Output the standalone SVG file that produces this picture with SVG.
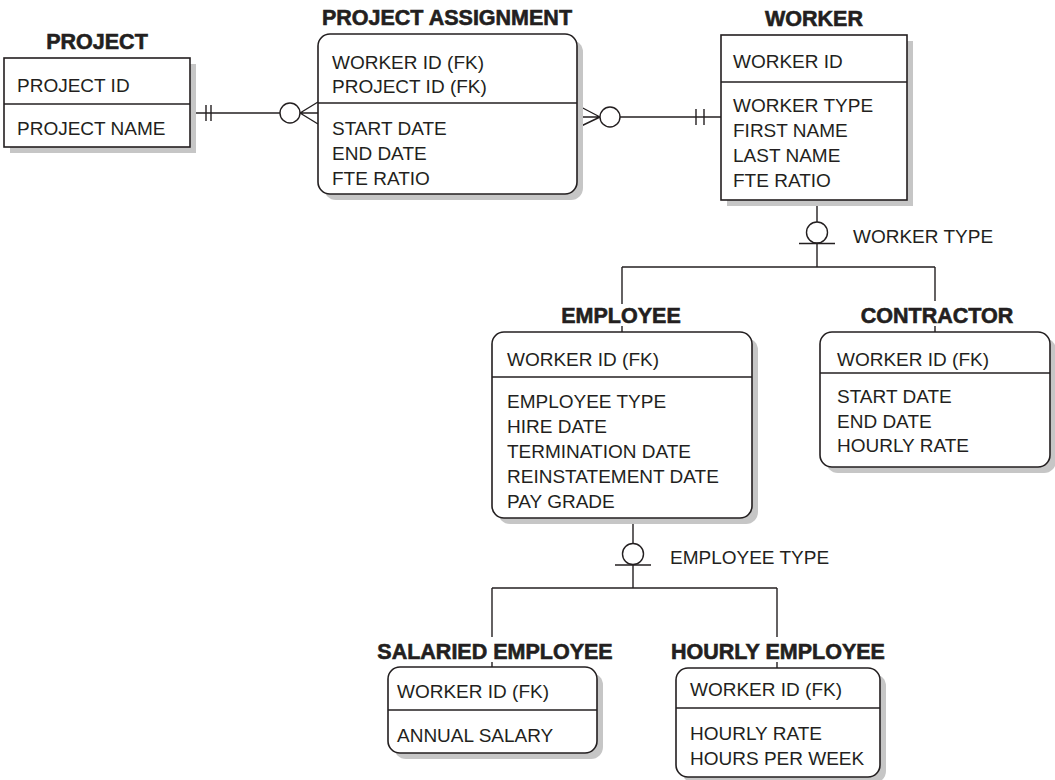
<svg xmlns="http://www.w3.org/2000/svg" width="1055" height="780" viewBox="0 0 1055 780">
<style>
  .box { fill: #ffffff; stroke: #231f20; stroke-width: 1.6; }
  .shadow { fill: #c6c6c6; stroke: none; }
  .div { stroke: #231f20; stroke-width: 1.3; fill: none; }
  .ln { stroke: #231f20; stroke-width: 1.4; fill: none; }
  .circ { fill: #ffffff; stroke: #231f20; stroke-width: 1.4; }
  .t { font-family: "Liberation Sans", Arial, sans-serif; font-size: 19px; fill: #231f20; }
  .title { font-family: "Liberation Sans", Arial, sans-serif; font-size: 21.5px; font-weight: bold; fill: #231f20; stroke: #231f20; stroke-width: 0.6; text-anchor: middle; }
</style>
<rect width="1055" height="780" fill="#ffffff"/>

<g id="connectors">
  <!-- PROJECT to PROJECT ASSIGNMENT -->
  <line class="ln" x1="190" y1="113" x2="280" y2="113"/>
  <line class="ln" x1="206" y1="105" x2="206" y2="121"/>
  <line class="ln" x1="211" y1="105" x2="211" y2="121"/>
  <circle class="circ" cx="290" cy="113" r="10"/>
  <path class="ln" d="M300,113 L318,102 M300,113 L318,113 M300,113 L318,124"/>
  <!-- WORKER to PROJECT ASSIGNMENT -->
  <path class="ln" d="M600,117 L577,105 M600,117 L577,117 M600,117 L577,128"/>
  <circle class="circ" cx="610" cy="117" r="10"/>
  <line class="ln" x1="620" y1="117" x2="721" y2="117"/>
  <line class="ln" x1="696" y1="109" x2="696" y2="125"/>
  <line class="ln" x1="704" y1="109" x2="704" y2="125"/>
  <!-- WORKER subtype -->
  <line class="ln" x1="817" y1="200" x2="817" y2="222"/>
  <circle class="circ" cx="817" cy="232.5" r="10.5"/>
  <line class="ln" x1="799" y1="243.5" x2="835" y2="243.5"/>
  <line class="ln" x1="817" y1="243.5" x2="817" y2="267"/>
  <line class="ln" x1="622" y1="267" x2="935" y2="267"/>
  <line class="ln" x1="622" y1="267" x2="622" y2="304"/>
  <line class="ln" x1="622" y1="326" x2="622" y2="332"/>
  <line class="ln" x1="935" y1="267" x2="935" y2="301"/>
  <line class="ln" x1="935" y1="326" x2="935" y2="332"/>
  <text class="t" x="853" y="243">WORKER TYPE</text>
  <!-- EMPLOYEE subtype -->
  <line class="ln" x1="633" y1="518" x2="633" y2="543.5"/>
  <circle class="circ" cx="633" cy="554" r="10.5"/>
  <line class="ln" x1="615" y1="565" x2="651" y2="565"/>
  <line class="ln" x1="633" y1="565" x2="633" y2="588"/>
  <line class="ln" x1="492" y1="588" x2="777" y2="588"/>
  <line class="ln" x1="492" y1="588" x2="492" y2="637"/>
  <line class="ln" x1="492" y1="662" x2="492" y2="667"/>
  <line class="ln" x1="777" y1="588" x2="777" y2="637"/>
  <line class="ln" x1="777" y1="662" x2="777" y2="668"/>
  <text class="t" x="670" y="564">EMPLOYEE TYPE</text>
</g>

<g id="project">
  <rect class="shadow" x="10" y="64" width="186" height="89"/>
  <rect class="box" x="4" y="58" width="186" height="89"/>
  <line class="div" x1="4" y1="104" x2="190" y2="104"/>
  <text class="title" x="97" y="49">PROJECT</text>
  <text class="t" x="17" y="92">PROJECT ID</text>
  <text class="t" x="17" y="135">PROJECT NAME</text>
</g>

<g id="project-assignment">
  <rect class="shadow" x="324" y="40" width="259" height="160" rx="12"/>
  <rect class="box" x="318" y="34" width="259" height="160" rx="12"/>
  <line class="div" x1="318" y1="103" x2="577" y2="103"/>
  <text class="title" x="447" y="25">PROJECT ASSIGNMENT</text>
  <text class="t" x="332" y="69">WORKER ID (FK)</text>
  <text class="t" x="332" y="93">PROJECT ID (FK)</text>
  <text class="t" x="332" y="135">START DATE</text>
  <text class="t" x="332" y="160">END DATE</text>
  <text class="t" x="332" y="185">FTE RATIO</text>
</g>

<g id="worker">
  <rect class="shadow" x="727" y="41" width="186" height="165"/>
  <rect class="box" x="721" y="35" width="186" height="165"/>
  <line class="div" x1="721" y1="82" x2="907" y2="82"/>
  <text class="title" x="814" y="26">WORKER</text>
  <text class="t" x="733" y="68">WORKER ID</text>
  <text class="t" x="733" y="112">WORKER TYPE</text>
  <text class="t" x="733" y="137">FIRST NAME</text>
  <text class="t" x="733" y="162">LAST NAME</text>
  <text class="t" x="733" y="187">FTE RATIO</text>
</g>

<g id="employee">
  <rect class="shadow" x="498" y="338" width="260" height="186" rx="12"/>
  <rect class="box" x="492" y="332" width="260" height="186" rx="12"/>
  <line class="div" x1="492" y1="377" x2="752" y2="377"/>
  <text class="title" x="621" y="323">EMPLOYEE</text>
  <text class="t" x="507" y="366">WORKER ID (FK)</text>
  <text class="t" x="507" y="408">EMPLOYEE TYPE</text>
  <text class="t" x="507" y="433">HIRE DATE</text>
  <text class="t" x="507" y="458">TERMINATION DATE</text>
  <text class="t" x="507" y="483">REINSTATEMENT DATE</text>
  <text class="t" x="507" y="508">PAY GRADE</text>
</g>

<g id="contractor">
  <rect class="shadow" x="826" y="338" width="230" height="135" rx="12"/>
  <rect class="box" x="820" y="332" width="230" height="135" rx="12"/>
  <line class="div" x1="820" y1="373" x2="1050" y2="373"/>
  <text class="title" x="937" y="323">CONTRACTOR</text>
  <text class="t" x="837" y="366">WORKER ID (FK)</text>
  <text class="t" x="837" y="403">START DATE</text>
  <text class="t" x="837" y="428">END DATE</text>
  <text class="t" x="837" y="452">HOURLY RATE</text>
</g>

<g id="salaried-employee">
  <rect class="shadow" x="394" y="673" width="209" height="86" rx="12"/>
  <rect class="box" x="388" y="667" width="209" height="86" rx="12"/>
  <line class="div" x1="388" y1="710" x2="597" y2="710"/>
  <text class="title" x="495" y="659">SALARIED EMPLOYEE</text>
  <text class="t" x="397" y="698">WORKER ID (FK)</text>
  <text class="t" x="397" y="742">ANNUAL SALARY</text>
</g>

<g id="hourly-employee">
  <rect class="shadow" x="682" y="674" width="204" height="109" rx="12"/>
  <rect class="box" x="676" y="668" width="204" height="109" rx="12"/>
  <line class="div" x1="676" y1="708" x2="880" y2="708"/>
  <text class="title" x="778" y="659">HOURLY EMPLOYEE</text>
  <text class="t" x="690" y="696">WORKER ID (FK)</text>
  <text class="t" x="690" y="740">HOURLY RATE</text>
  <text class="t" x="690" y="765">HOURS PER WEEK</text>
</g>
</svg>
